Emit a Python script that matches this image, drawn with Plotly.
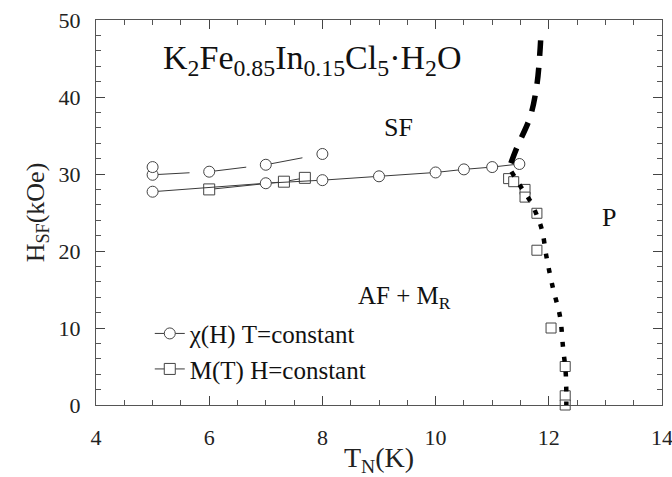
import plotly.graph_objects as go

# χ(H) measured at constant temperature (main branch)
chi_T = [5, 7, 8, 9, 10, 10.5, 11, 11.48]
chi_H = [27.7, 28.8, 29.2, 29.7, 30.2, 30.6, 30.9, 31.3]
# χ(H) upper branch
chi_up_T = [5, 6, 7, 8]
chi_up_H = [29.9, 30.3, 31.2, 32.6]
# isolated χ(H) point
chi_iso_T = [5]
chi_iso_H = [30.9]

# M(T) measured at constant field
mt_T = [6, 7.32, 7.69]
mt_H = [28.0, 29.0, 29.5]
mt_edge_T = [11.29, 11.38, 11.58, 11.58, 11.79, 11.79, 12.04, 12.29, 12.29, 12.29]
mt_edge_H = [29.4, 29.0, 28.0, 27.0, 24.9, 20.1, 10.0, 5.0, 1.2, 0.0]

# phase boundaries
sf_p_T = [11.33, 11.44, 11.67, 11.79, 11.84, 11.86]
sf_p_H = [31.4, 33.5, 37.4, 41.6, 45.5, 48.0]
af_p_T = [11.34, 11.5, 11.67, 11.78, 11.88, 11.96, 12.07, 12.2, 12.25, 12.3, 12.31]
af_p_H = [30.3, 28.4, 26.5, 24.8, 22.7, 19.2, 15.3, 11.4, 7.6, 4.0, 0.0]

SERIF = "Liberation Serif, Times New Roman, serif"
LINE_C = "#3a3a3a"
MK_C = "#444444"

fig = go.Figure()

circle_marker = dict(symbol="circle", size=11, color="white",
                     line=dict(color=MK_C, width=1))
square_marker = dict(symbol="square", size=11, color="white",
                     line=dict(color=MK_C, width=1))

fig.add_trace(go.Scatter(x=chi_up_T, y=chi_up_H, mode="lines+markers",
                         line=dict(color=LINE_C, width=1, dash="37px,20px"),
                         marker=circle_marker, showlegend=False, cliponaxis=False))
fig.add_trace(go.Scatter(x=chi_iso_T, y=chi_iso_H, mode="markers",
                         marker=circle_marker, showlegend=False, cliponaxis=False))
fig.add_trace(go.Scatter(x=mt_T, y=mt_H, mode="lines+markers",
                         line=dict(color=LINE_C, width=1),
                         marker=square_marker, name="M(T) H=constant",
                         legendrank=2, cliponaxis=False))
fig.add_trace(go.Scatter(x=chi_T, y=chi_H, mode="lines+markers",
                         line=dict(color=LINE_C, width=1),
                         marker=circle_marker, name="χ(H) T=constant",
                         legendrank=1, cliponaxis=False))
fig.add_trace(go.Scatter(x=mt_edge_T, y=mt_edge_H, mode="markers",
                         marker=dict(symbol="square", size=10, color="white",
                                     line=dict(color=MK_C, width=1)),
                         showlegend=False, cliponaxis=False))
fig.add_trace(go.Scatter(x=sf_p_T, y=sf_p_H, mode="lines", line_shape="spline",
                         line=dict(color="black", width=5.5, dash="16px,12px"),
                         showlegend=False, cliponaxis=False))
fig.add_trace(go.Scatter(x=af_p_T, y=af_p_H, mode="lines", line_shape="spline",
                         line=dict(color="black", width=4.5, dash="5px,10px"),
                         showlegend=False, cliponaxis=False))

axis_common = dict(
    showline=True, linecolor="#555555", linewidth=1, mirror="allticks",
    ticks="inside", tickcolor="#444444", ticklen=9, tickwidth=1,
    showgrid=False, zeroline=False, automargin=False,
    ticklabeloverflow="allow",
    tickfont=dict(family=SERIF, size=22, color="#222222"),
)

fig.update_xaxes(range=[4, 14], tick0=4, dtick=2,
                 minor=dict(dtick=0.5, ticks="inside", ticklen=5,
                            tickcolor="#555555", showgrid=False),
                 ticklabelstandoff=13,
                 title=dict(text="T<sub>N</sub>(K)",
                            font=dict(family=SERIF, size=28, color="#222222"),
                            standoff=0),
                 **axis_common)
fig.update_yaxes(range=[0, 50], tick0=0, dtick=10,
                 minor=dict(dtick=2, ticks="inside", ticklen=5,
                            tickcolor="#555555", showgrid=False),
                 ticklabelstandoff=10,
                 title=dict(text="H<sub>SF</sub>(kOe)",
                            font=dict(family=SERIF, size=26, color="#222222"),
                            standoff=6),
                 **axis_common)

def label(text, x, y, size, anchor="center"):
    fig.add_annotation(x=x, y=y, xref="x", yref="y", text=text, showarrow=False,
                       xanchor=anchor, yanchor="middle",
                       font=dict(family=SERIF, size=size, color="#111111"))

label("K<sub>2</sub>Fe<sub>0.85</sub>In<sub>0.15</sub>Cl<sub>5</sub>·H<sub>2</sub>O",
      5.15, 44.8, 34, anchor="left")
label("SF", 9.34, 36.0, 26)
label("P", 13.06, 24.3, 26)
label("AF + M<sub>R</sub>", 8.6, 14.0, 25, anchor="left")

fig.update_layout(
    width=672, height=477,
    margin=dict(l=96, r=10, t=20, b=72),
    paper_bgcolor="white", plot_bgcolor="white",
    legend=dict(x=0.095, y=0.245, xanchor="left", yanchor="top",
                bgcolor="rgba(0,0,0,0)", tracegroupgap=0,
                font=dict(family=SERIF, size=25, color="#111111")),
)

fig.write_html("out.html")
